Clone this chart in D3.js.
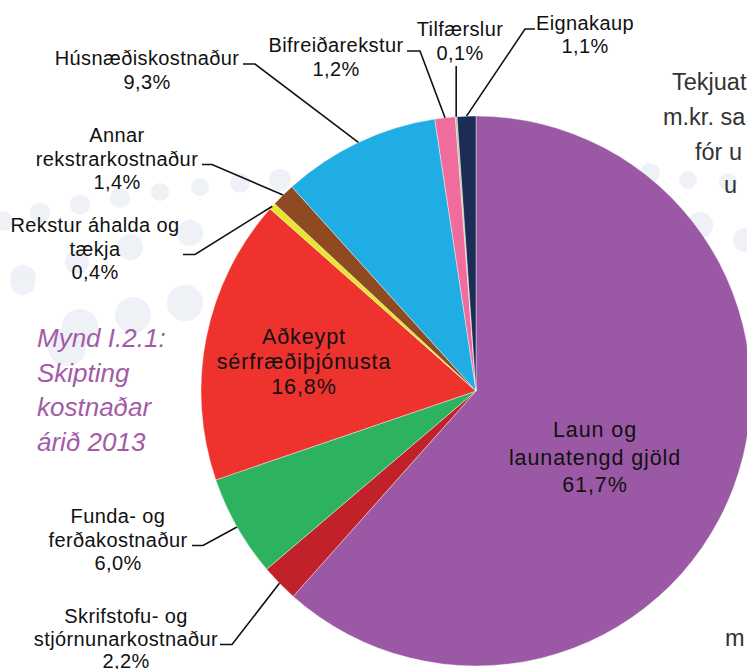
<!DOCTYPE html>
<html>
<head>
<meta charset="utf-8">
<script src="https://cdn.jsdelivr.net/npm/d3@7"></script>
<style>
  body { margin: 0; background: #fff; }
  svg { display: block; font-family: "Liberation Sans", Arial, sans-serif; }
</style>
</head>
<body>
<div id="chart"></div>
<script>
// data
var categories = [
  "Laun og launatengd gjöld",
  "Skrifstofu- og stjórnunarkostnaður",
  "Funda- og ferðakostnaður",
  "Aðkeypt sérfræðiþjónusta",
  "Rekstur áhalda og tækja",
  "Annar rekstrarkostnaður",
  "Húsnæðiskostnaður",
  "Bifreiðarekstur",
  "Tilfærslur",
  "Eignakaup"
];
var values = [61.7, 2.2, 6.0, 16.8, 0.4, 1.4, 9.3, 1.2, 0.1, 1.1];
var colors = ["#9b59a5", "#c1222a", "#2db35f", "#ee322e", "#e9e52b",
              "#8e4a21", "#1fade4", "#ef6c9d", "#b5c2a0", "#1c2c55"];
// label text lines (percentage is added below them)
var labelLines = [
  ["Laun og", "launatengd gjöld"],
  ["Skrifstofu- og", "stjórnunarkostnaður"],
  ["Funda- og", "ferðakostnaður"],
  ["Aðkeypt", "sérfræðiþjónusta"],
  ["Rekstur áhalda og", "tækja"],
  ["Annar", "rekstrarkostnaður"],
  ["Húsnæðiskostnaður"],
  ["Bifreiðarekstur"],
  ["Tilfærslur"],
  ["Eignakaup"]
];
var captionLines = ["Mynd I.2.1:", "Skipting", "kostnaðar", "árið 2013"];
var sideText = ["Tekjuat", "m.kr. sa", "fór u", "u", "m"];

// layout: text centre x, first baseline, line step, leader bar (start x, elbow x)
var labelLayout = [
  {x: 595, y: 437, dy: 27.5, inside: true},
  {x: 126, y: 623, dy: 22.5, bar: [220, 232]},
  {x: 118, y: 523, dy: 23.5, bar: [192, 203]},
  {x: 304, y: 344, dy: 25, inside: true},
  {x: 95,  y: 232, dy: 23.5, bar: [183, 195]},
  {x: 117, y: 142, dy: 23.5, bar: [202, 212]},
  {x: 147, y: 65,  dy: 23.5, bar: [243, 255]},
  {x: 336, y: 52,  dy: 23.5, bar: [407, 420]},
  {x: 460, y: 36,  dy: 24,   vert: 66},
  {x: 585, y: 30,  dy: 22.5, bar: [535, 525]}
];
var sideLayout = [[672, 90], [663, 125], [695, 160], [724, 193], [725, 646]];
var dots = [[280,180,11],[240,183,10],[200,187,9],[160,192,9],[120,198,10],[80,205,10],[40,213,10],[3,221,10],
            [130,247,13],[77,262,12],[23,278,13],[190,233,13],[185,303,18],[133,315,18],[80,327,18],[23,283,12],
            [67,347,19],[650,173,10],[688,180,9],[728,182,9],[700,225,13],[745,240,12],[270,290,14]];

var width = 747, height = 669;
var cx = 476, cy = 391, radius = 275;

var svg = d3.select("#chart").append("svg")
    .attr("width", width)
    .attr("height", height);

// background dots
svg.append("g").selectAll("circle")
    .data(dots)
  .enter().append("circle")
    .attr("cx", function(d) { return d[0]; })
    .attr("cy", function(d) { return d[1]; })
    .attr("r", function(d) { return d[2]; })
    .attr("fill", "#eef1f5");

// side text of the page
svg.append("g").selectAll("text")
    .data(sideText)
  .enter().append("text")
    .attr("x", function(d, i) { return sideLayout[i][0]; })
    .attr("y", function(d, i) { return sideLayout[i][1]; })
    .attr("font-size", 23.5)
    .attr("fill", "#333")
    .text(function(d) { return d; });

// caption
svg.append("g").selectAll("text")
    .data(captionLines)
  .enter().append("text")
    .attr("x", 37)
    .attr("y", function(d, i) { return 347 + i * 34.5; })
    .attr("font-size", 26)
    .attr("font-style", "italic")
    .attr("fill", "#a35ba8")
    .text(function(d) { return d; });

var pie = d3.pie().sort(null).value(function(d) { return d; });
var arcs = pie(values);

var arc = d3.arc().innerRadius(0).outerRadius(radius);

var g = svg.append("g")
    .attr("transform", "translate(" + cx + "," + cy + ")");

g.selectAll("path")
    .data(arcs)
  .enter().append("path")
    .attr("d", arc)
    .attr("fill", function(d, i) { return colors[i]; })
    .attr("stroke", "#fff")
    .attr("stroke-width", 0.4);

function fmt(v) { return v.toFixed(1).replace(".", ",") + "%"; }

// leader lines
arcs.forEach(function(d, i) {
  var L = labelLayout[i];
  if (L.inside) return;
  var a = (d.startAngle + d.endAngle) / 2;
  var px = cx + radius * Math.sin(a), py = cy - radius * Math.cos(a);
  var pts;
  if (L.vert) {
    pts = [[px, L.vert], [px, py]];
  } else {
    var ly = L.y + (labelLines[i].length - 1) * L.dy - 1;
    pts = [[L.bar[0], ly], [L.bar[1], ly], [px, py]];
  }
  svg.append("path")
      .attr("d", d3.line()(pts))
      .attr("fill", "none")
      .attr("stroke", "#111")
      .attr("stroke-width", 1.6);
});

// labels
arcs.forEach(function(d, i) {
  var L = labelLayout[i];
  var lines = labelLines[i].concat([fmt(values[i])]);
  var t = svg.append("text")
      .attr("text-anchor", "middle")
      .attr("font-size", L.inside ? 21.5 : 20)
      .attr("letter-spacing", L.inside ? 0.9 : 0.4)
      .attr("fill", "#111");
  lines.forEach(function(s, j) {
    t.append("tspan")
        .attr("x", L.x)
        .attr("y", L.y + j * L.dy)
        .text(s);
  });
});
</script>
</body>
</html>
